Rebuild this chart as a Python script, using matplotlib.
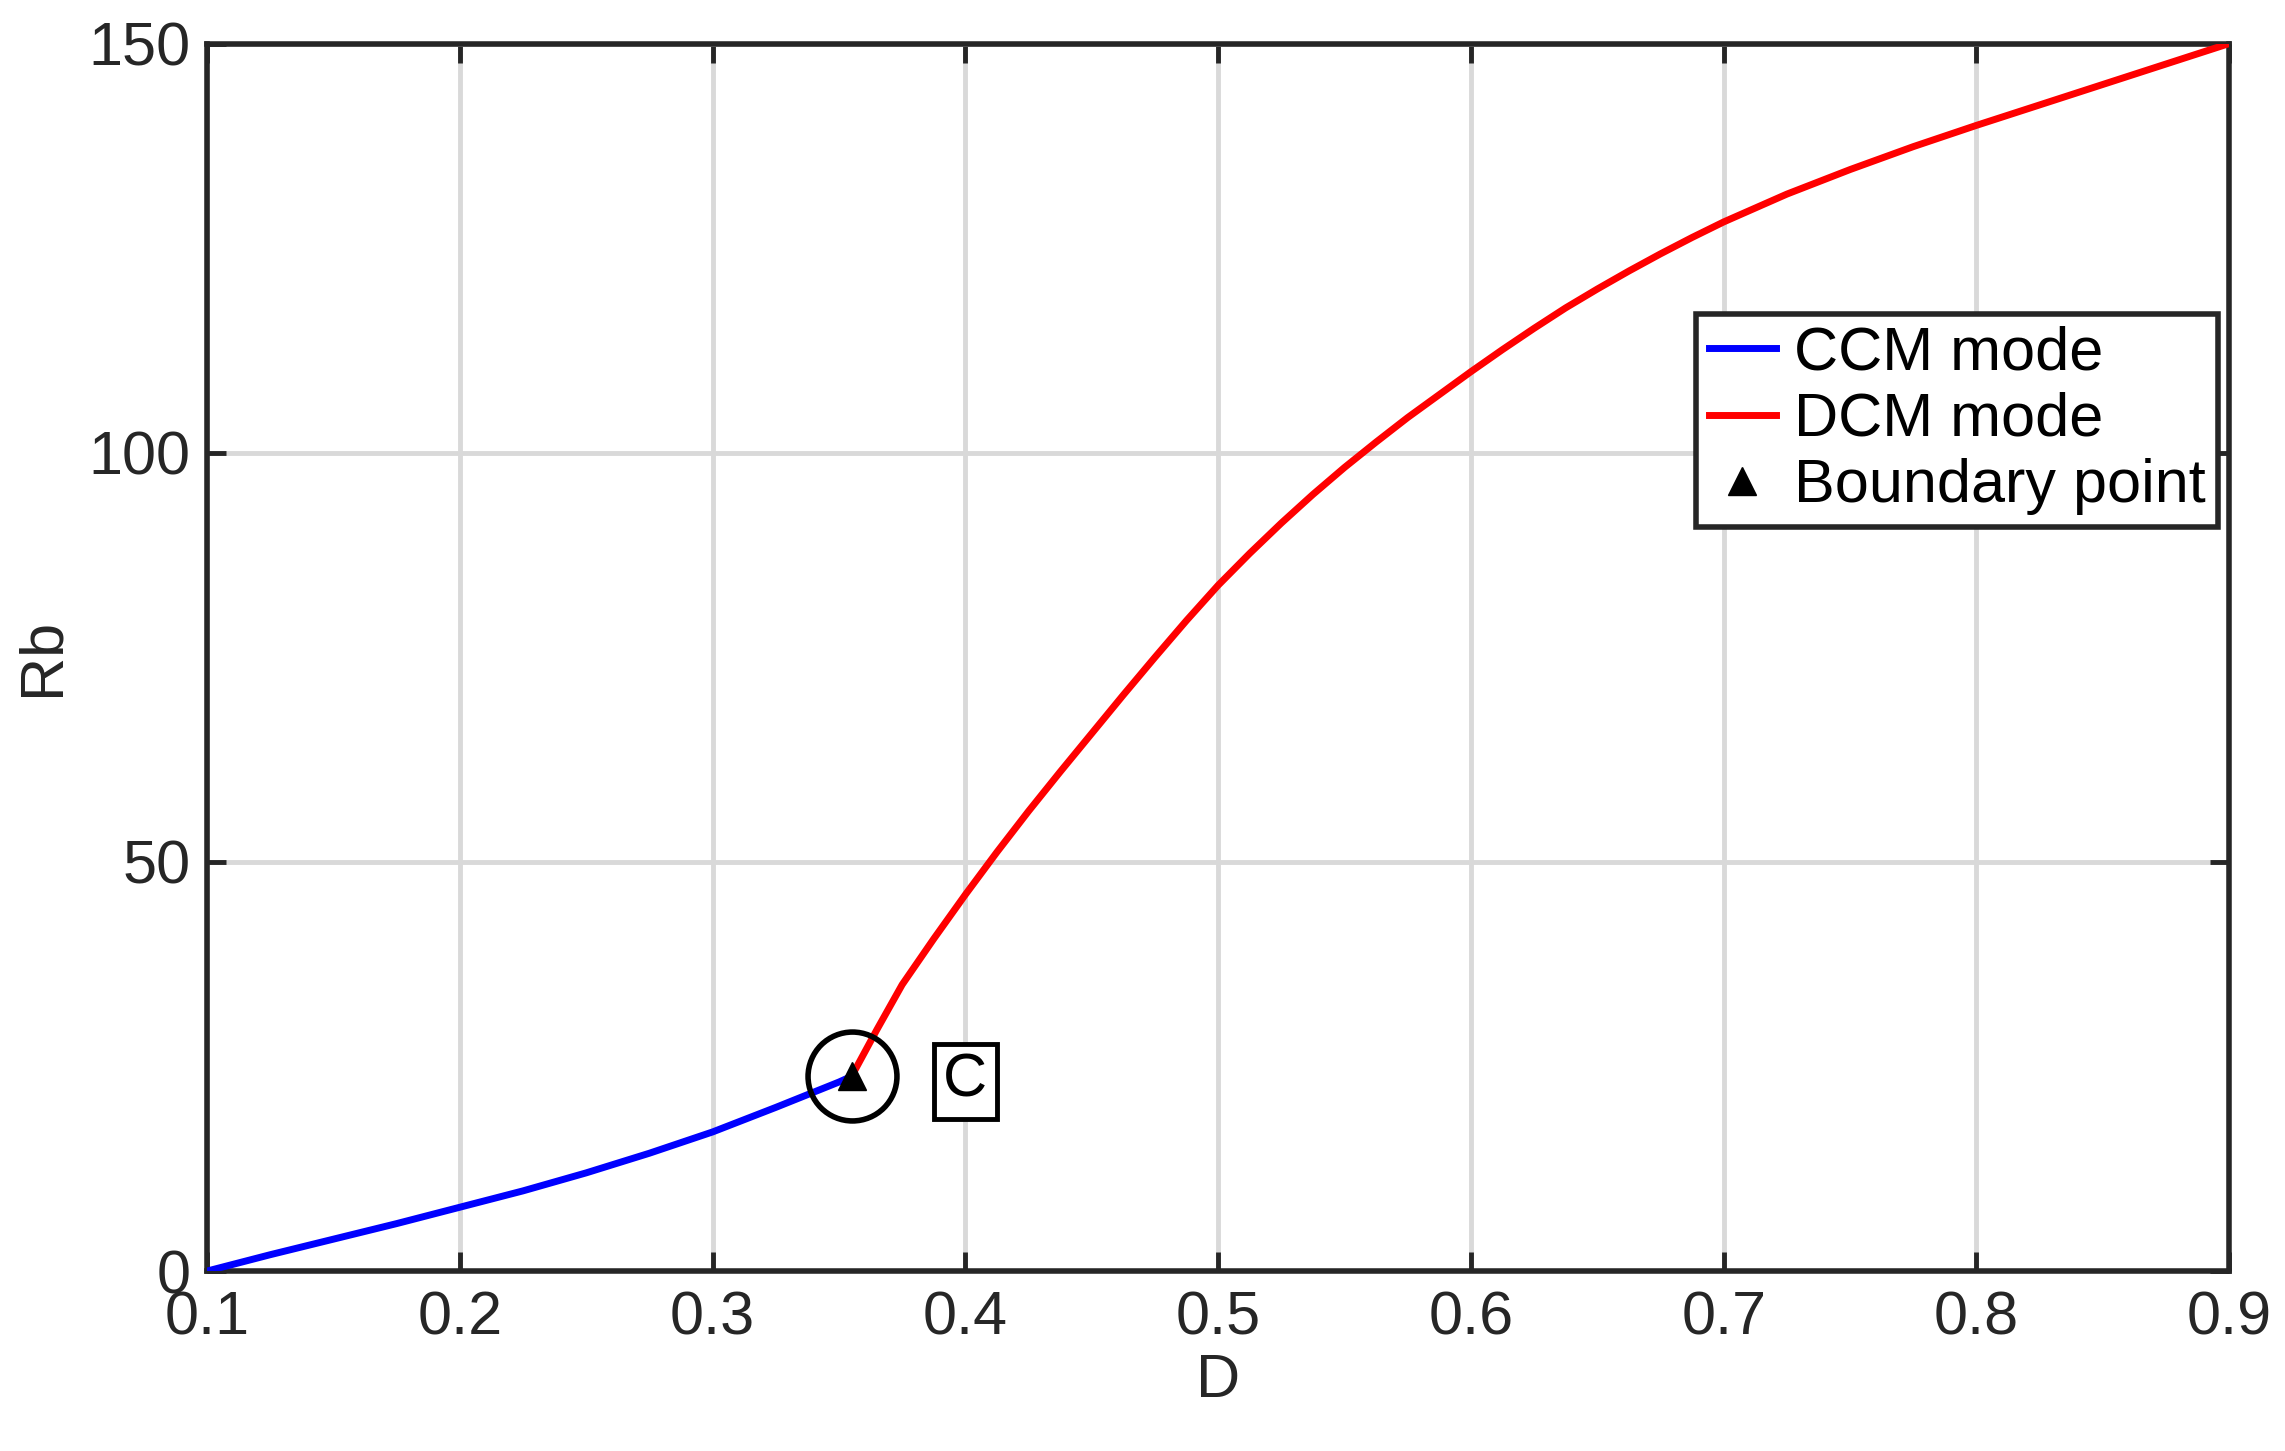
import matplotlib
matplotlib.use("Agg")
import matplotlib.pyplot as plt

plt.rcParams.update({"font.family": ["Liberation Sans", "DejaVu Sans"]})

# CCM branch (D, Rb)
ccm_d = [0.10, 0.125, 0.15, 0.175, 0.20, 0.225, 0.25, 0.275, 0.30, 0.325, 0.35, 0.355]
ccm_rb = [0.0, 2.0, 3.9, 5.8, 7.8, 9.8, 12.0, 14.4, 17.0, 20.0, 23.1, 23.8]
# DCM branch
dcm_d = [0.355, 0.365, 0.375, 0.3875, 0.40, 0.4125, 0.425, 0.4375, 0.45, 0.4625, 0.475,
         0.4875, 0.50, 0.5125, 0.525, 0.5375, 0.55, 0.5625, 0.575, 0.5875, 0.60,
         0.6125, 0.625, 0.6375, 0.65, 0.6625, 0.675, 0.6875, 0.70, 0.7125, 0.725,
         0.7375, 0.75, 0.775, 0.80, 0.825, 0.85, 0.875, 0.90]
dcm_rb = [23.8, 29.5, 35.0, 40.6, 46.0, 51.2, 56.2, 61.0, 65.7, 70.4, 75.0,
          79.5, 83.8, 87.7, 91.4, 94.9, 98.2, 101.3, 104.3, 107.1, 109.9,
          112.6, 115.2, 117.7, 120.0, 122.2, 124.3, 126.3, 128.2, 129.9, 131.6,
          133.1, 134.6, 137.4, 140.0, 142.5, 145.0, 147.5, 150.0]
bd_d, bd_rb = 0.355, 23.8

fig = plt.figure(figsize=(22.85, 14.51), dpi=100)
ax = fig.add_axes([0.0906, 0.124, 0.885, 0.846])
ax.plot(ccm_d, ccm_rb, color="#0000ff", lw=5, label="CCM mode", zorder=3)
ax.plot(dcm_d, dcm_rb, color="#ff0000", lw=5, label="DCM mode", zorder=3)
ax.plot([bd_d], [bd_rb], ls="none", marker="^", ms=20, color="black",
        label="Boundary point", zorder=4)
ax.plot([bd_d], [bd_rb], ls="none", marker="o", ms=64, mfc="none", mec="black",
        mew=4, zorder=4)
ax.text(0.4, 23.2, "C", fontsize=44, ha="center", va="center",
        bbox=dict(boxstyle="square,pad=0.15", fc="white", ec="black", lw=3.5))

ax.set_xlim(0.1, 0.9)
ax.set_ylim(0, 150)
ax.set_xticks([0.1, 0.2, 0.3, 0.4, 0.5, 0.6, 0.7, 0.8, 0.9])
ax.set_xticklabels(["0.1", "0.2", "0.3", "0.4", "0.5", "0.6", "0.7", "0.8", "0.9"])
ax.set_yticks([0, 50, 100, 150])
ax.grid(True, color="#d9d9d9", lw=3.5)
ax.set_axisbelow(True)
ax.tick_params(direction="in", length=14, width=3.5, labelsize=44, colors="#262626",
               top=True, right=True)
ax.tick_params(axis="x", pad=14)
ax.tick_params(axis="y", pad=12)
for s in ax.spines.values():
    s.set_linewidth(4)
    s.set_color("#262626")
ax.set_xlabel("D", fontsize=44, color="#262626", labelpad=4)
ax.set_ylabel("Rb", fontsize=44, color="#262626", labelpad=12)

leg = ax.legend(loc="upper right", bbox_to_anchor=(0.9945, 0.78), fontsize=44,
                frameon=True, fancybox=False, handlelength=1.1, handletextpad=0.3,
                borderpad=0.2, labelspacing=0.15, borderaxespad=0)
leg.get_frame().set_edgecolor("#262626")
leg.get_frame().set_linewidth(4)
leg.get_frame().set_alpha(1)

fig.savefig("out.png", dpi=100)
